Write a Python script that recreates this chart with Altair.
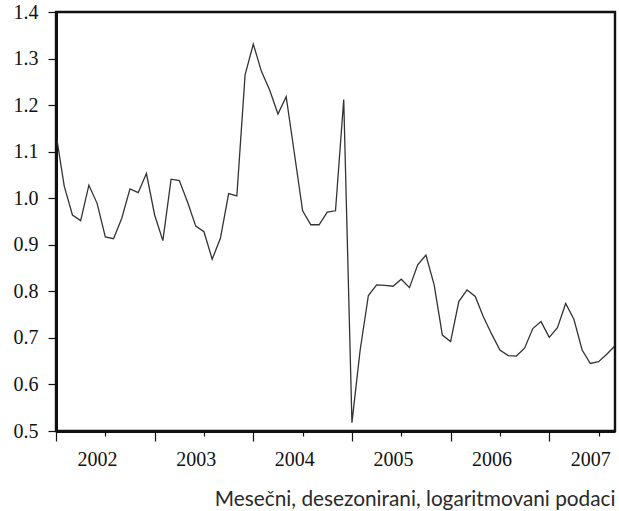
import altair as alt
import pandas as pd

# Monthly series, January 2002 - September 2007
start_year = 2002
values = [
    1.139, 1.026, 0.964, 0.952, 1.028, 0.989, 0.917, 0.913, 0.957, 1.020, 1.012, 1.053,
    0.964, 0.909, 1.041, 1.038, 0.992, 0.940, 0.928, 0.869, 0.914, 1.010, 1.005, 1.265,
    1.331, 1.272, 1.232, 1.181, 1.218, 1.096, 0.973, 0.943, 0.943, 0.970, 0.973, 1.212,
    0.518, 0.674, 0.791, 0.814, 0.813, 0.811, 0.826, 0.808, 0.857, 0.878, 0.814, 0.706,
    0.692, 0.778, 0.803, 0.789, 0.745, 0.708, 0.674, 0.662, 0.661, 0.678, 0.720, 0.735,
    0.701, 0.722, 0.774, 0.740, 0.674, 0.645, 0.649, 0.665, 0.683,
]
y_ticks = [0.5, 0.6, 0.7, 0.8, 0.9, 1.0, 1.1, 1.2, 1.3, 1.4]
quarter_ticks = list(range(0, len(values), 3))
caption = "Mesečni, desezonirani, logaritmovani podaci"

df = pd.DataFrame({"t": list(range(len(values))), "v": values})

ink = "#111111"

x_axis = alt.Axis(
    values=quarter_ticks,
    tickSize={"condition": {"test": "datum.value % 12 === 0", "value": 10}, "value": 5},
    labelExpr=f"datum.value % 12 === 0 ? '' + ({start_year} + datum.value / 12) : ''",
    labelOffset=41,
    labelOverlap=False,
    labelFlush=False,
    labelPadding=8,
    labelFont="Liberation Serif",
    labelFontSize=20,
    labelColor=ink,
    grid=False,
    domain=True,
    domainColor=ink,
    domainWidth=3,
    tickColor=ink,
    tickWidth=1.2,
    title=caption,
    titleFont="Lato",
    titleFontWeight="normal",
    titleFontSize=20.8,
    titleColor="#2a2a2a",
    titleAnchor="end",
    titleAlign="right",
    titlePadding=20,
)

y_axis = alt.Axis(
    values=y_ticks,
    format=".1f",
    tickSize=8,
    labelPadding=10,
    labelFont="Liberation Serif",
    labelFontSize=20,
    labelColor=ink,
    grid=False,
    domain=True,
    domainColor=ink,
    domainWidth=3,
    tickColor=ink,
    tickWidth=1.2,
    title=None,
)

x = alt.X("t:Q", scale=alt.Scale(domain=[0, len(values) - 1], nice=False, zero=False), axis=x_axis)
y = alt.Y("v:Q", scale=alt.Scale(domain=[0.5, 1.4], nice=False, zero=False), axis=y_axis)

# plot frame as a rectangle spanning the full scale domains
frame_df = pd.DataFrame({"t0": [0], "t1": [len(values) - 1], "v0": [0.5], "v1": [1.4]})
frame = (
    alt.Chart(frame_df)
    .mark_rect(fill=None, stroke=ink, strokeWidth=2.4)
    .encode(x=alt.X("t0:Q"), x2="t1:Q", y=alt.Y("v0:Q"), y2="v1:Q")
)

line = alt.Chart(df).mark_line(color="#333333", strokeWidth=1.3).encode(x=x, y=y)

chart = (
    alt.layer(line, frame)
    .properties(
        width=559,
        height=419,
        autosize=alt.AutoSizeParams(type="none"),
        padding={"left": 56, "top": 12, "right": 4, "bottom": 80},
    )
    .configure_view(stroke=None)
    .configure(background="white")
)

chart.save("out.html", embed_options={"renderer": "svg", "actions": False})
